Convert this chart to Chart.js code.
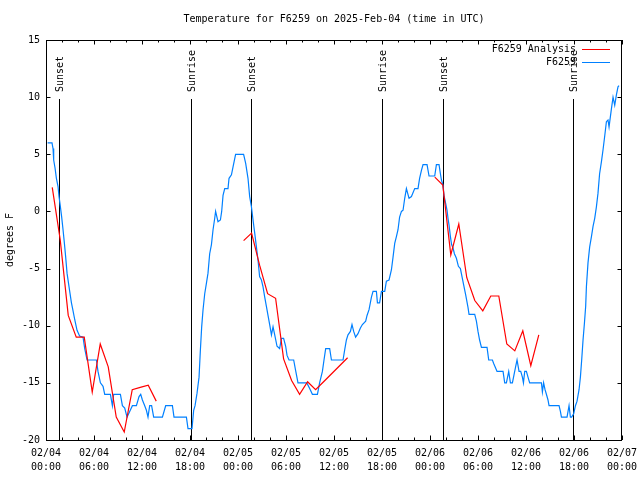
<!DOCTYPE html>
<html>
<head>
<meta charset="utf-8">
<script src="https://cdn.jsdelivr.net/npm/chart.js@4/dist/chart.umd.min.js"></script>
<style>
  html, body { margin: 0; padding: 0; background: #fff; }
</style>
</head>
<body>
<canvas id="myChart" width="640" height="480"></canvas>
<script>
const FONT = '"DejaVu Sans Mono", monospace';
const TITLE = 'Temperature for F6259 on 2025-Feb-04 (time in UTC)';

// x axis: hours since 02/04 00:00 UTC, labelled every 6 hours
const tickDates = ['02/04', '02/04', '02/04', '02/04', '02/05', '02/05', '02/05', '02/05', '02/06', '02/06', '02/06', '02/06', '02/07'];
const tickTimes = ['00:00', '06:00', '12:00', '18:00', '00:00', '06:00', '12:00', '18:00', '00:00', '06:00', '12:00', '18:00', '00:00'];

const sunsetHours = [1.63, 25.6, 49.62];
const sunriseHours = [18.12, 42.0, 65.88];

// F6259 observations
const obsHours = [
    0.2, 0.75, 0.88, 0.96, 1.13, 1.3, 1.5, 1.63, 1.8, 1.96,
    2.13, 2.3, 2.46, 2.63, 2.88, 3.18, 3.35, 3.6, 3.88, 4.2,
    4.63, 4.84, 5.13, 6.3, 6.5, 6.8, 7.13, 7.34, 8.05, 8.3,
    8.46, 9.3, 9.55, 9.84, 10.13, 10.46, 10.8, 11.3, 11.63, 11.84,
    12.05, 12.34, 12.55, 12.75, 12.96, 13.2, 13.46, 14.55, 14.96, 15.8,
    16.0, 17.55, 17.75, 18.25, 18.46, 18.63, 18.88, 19.13, 19.3, 19.46,
    19.63, 19.84, 20.05, 20.25, 20.46, 20.68, 20.88, 21.09, 21.2, 21.5,
    21.8, 21.96, 22.13, 22.34, 22.75, 22.88, 23.18, 23.38, 23.7, 24.7,
    24.96, 25.25, 25.46, 25.68, 25.88, 26.09, 26.3, 26.5, 26.7, 26.93,
    27.13, 27.34, 27.55, 27.75, 27.96, 28.18, 28.38, 28.59, 28.88, 29.2,
    29.43, 29.7, 29.96, 30.13, 30.38, 30.96, 31.2, 31.5, 32.6, 32.96,
    33.3, 33.93, 34.2, 34.55, 34.75, 34.96, 35.46, 35.68, 37.13, 37.34,
    37.55, 37.75, 38.05, 38.25, 38.46, 38.7, 39.0, 39.3, 39.55, 39.96,
    40.13, 40.38, 40.68, 40.88, 41.3, 41.43, 41.7, 41.93, 42.34, 42.55,
    42.88, 43.18, 43.38, 43.59, 43.8, 44.0, 44.2, 44.43, 44.63, 44.84,
    45.05, 45.38, 45.68, 46.09, 46.5, 46.7, 46.93, 47.13, 47.63, 47.88,
    48.59, 48.8, 49.13, 49.3, 49.43, 49.63, 49.75, 49.96, 50.13, 50.25,
    50.38, 50.55, 50.7, 50.88, 51.05, 51.3, 51.55, 51.8, 52.0, 52.2,
    52.46, 52.75, 52.88, 53.59, 53.8, 54.0, 54.2, 54.43, 55.13, 55.34,
    55.8, 55.96, 56.2, 56.38, 57.13, 57.34, 57.55, 57.84, 58.05, 58.3,
    58.5, 58.7, 58.88, 59.13, 59.34, 59.55, 59.68, 59.84, 60.05, 60.25,
    60.46, 61.93, 62.05, 62.2, 62.38, 62.55, 62.75, 62.88, 64.13, 64.3,
    64.43, 65.13, 65.38, 65.55, 65.7, 65.96, 66.18, 66.38, 66.63, 66.8,
    66.96, 67.13, 67.3, 67.46, 67.55, 67.75, 67.96, 68.18, 68.38, 68.59,
    68.8, 69.0, 69.2, 69.43, 69.63, 69.84, 70.05, 70.25, 70.38, 70.68,
    70.88, 71.09, 71.3, 71.5, 71.63
];
const obsTemps = [
    6, 6, 5.5, 4.5, 3.8, 2.9, 2.2, 1.3, 0.4, -0.5,
    -1.6, -2.8, -4.0, -5.4, -6.6, -8.0, -8.6, -9.5, -10.4, -10.9,
    -11, -12, -13, -13, -14, -15, -15.3, -16, -16, -17,
    -16, -16, -17, -17.2, -18, -17.5, -17, -17, -16.2, -16,
    -16.5, -17, -17.4, -18, -17, -17, -18, -18, -17, -17,
    -18, -18, -19, -19, -17.4, -17, -15.9, -14.5, -12.1, -10.1,
    -8.6, -7.2, -6.3, -5.4, -3.7, -2.9, -1.6, -0.6, 0, -0.9,
    -0.75, 0, 1.4, 2.0, 2.0, 2.9, 3.2, 3.9, 5.0, 5,
    4.2, 2.9, 1.3, 0.4, -0.75, -1.9, -3.1, -4.25, -5.7, -6,
    -6.6, -7.5, -8.3, -9.1, -9.9, -10.8, -10.1, -10.8, -11.8, -12,
    -11.1, -11.1, -11.8, -12.6, -13, -13, -13.9, -15, -15, -15.5,
    -16, -16, -15, -14, -13, -12, -12, -13, -13, -12.1,
    -11.25, -10.8, -10.5, -9.9, -10.5, -11, -10.7, -10.2, -9.9, -9.6,
    -9.1, -8.6, -7.5, -7.0, -7, -8.0, -8, -7, -7, -6.1,
    -6, -5.1, -4.0, -2.8, -2.2, -1.6, -0.5, 0, 0.1, 1.15,
    2.0, 1.15, 1.3, 2.0, 2.0, 2.9, 3.6, 4.1, 4.1, 3.1,
    3.1, 4.1, 4.1, 3.3, 2.75, 2.3, 1.4, 0.7, 0.1, -0.6,
    -1.2, -2.2, -2.9, -3.2, -3.7, -4.1, -4.8, -5.0, -5.7, -6.4,
    -7.3, -8.4, -9.0, -9.0, -9.6, -10.5, -11.25, -11.9, -11.9, -13,
    -13, -13.3, -13.7, -14, -14, -15, -15, -14, -15, -15,
    -14.3, -13.6, -13, -14, -14, -14.5, -15, -14, -14, -14.5,
    -15, -15, -15.8, -15, -15.6, -16, -16.5, -17, -17, -17.5,
    -18, -18, -17, -18, -18, -17.7, -17, -16.6, -15.6, -14.5,
    -13, -11.25, -9.8, -8.3, -6.6, -4.5, -3.1, -2.2, -1.3, -0.6,
    0.4, 1.6, 3.3, 4.35, 5.4, 6.6, 7.85, 8, 7.4, 9.0,
    10.0, 9.3, 10.2, 10.9, 11
];

// F6259 Analysis (hourly, null = gap between runs)
const anaHours = [
    0.78, 1.78, 2.78, 3.78, 4.78, 5.78, 6.78, 7.78, 8.78, 9.78, 10.78, 11.78, 12.78, 13.78,
    19,
    24.7, 25.7, 26.7, 27.7, 28.7, 29.7, 30.7, 31.7, 32.7, 33.7, 34.7, 35.7, 36.7, 37.7,
    43,
    48.6, 49.6, 50.6, 51.6, 52.6, 53.6, 54.6, 55.6, 56.6, 57.6, 58.6, 59.6, 60.6, 61.6
];
const anaTemps = [
    2.1, -2.5, -9.1, -11, -11, -15.8, -11.6, -13.6, -18, -19.3, -15.6, -15.4, -15.2, -16.6,
    null,
    -2.55, -1.9, -4.7, -7.2, -7.6, -12.9, -14.8, -16, -14.9, -15.6, -14.9, -14.2, -13.5, -12.8,
    null,
    3.0, 2.3, -3.8, -1.1, -5.8, -7.8, -8.7, -7.4, -7.4, -11.6, -12.2, -10.45, -13.5, -10.8
];

// frame, inward ticks, sun lines, title and legend in the gnuplot style
const decorations = {
    id: 'decorations',
    beforeDatasetsDraw(chart) {
        const ctx = chart.ctx;
        const area = chart.chartArea;
        const x = chart.scales.x;
        ctx.save();
        ctx.strokeStyle = '#000';
        ctx.fillStyle = '#000';
        ctx.lineWidth = 1;
        ctx.font = '10px ' + FONT;

        // title, centred over the plot area
        ctx.textAlign = 'center';
        ctx.textBaseline = 'middle';
        ctx.fillText(TITLE, (area.left + area.right) / 2, 19);

        const events = [];
        sunsetHours.forEach(h => events.push([h, 'Sunset']));
        sunriseHours.forEach(h => events.push([h, 'Sunrise']));
        for (const [h, name] of events) {
            const px = Math.round(x.getPixelForValue(h)) + 0.5;
            ctx.beginPath();
            ctx.moveTo(px, area.top + 59);
            ctx.lineTo(px, area.bottom);
            ctx.stroke();
            ctx.save();
            ctx.translate(px + 1, area.top + 52);
            ctx.rotate(-Math.PI / 2);
            ctx.textAlign = 'left';
            ctx.textBaseline = 'middle';
            ctx.fillText(name, 0, 0);
            ctx.restore();
        }
        ctx.restore();
    },
    afterDatasetsDraw(chart) {
        const ctx = chart.ctx;
        const area = chart.chartArea;
        const x = chart.scales.x;
        const y = chart.scales.y;
        ctx.save();
        ctx.strokeStyle = '#000';
        ctx.lineWidth = 1;
        ctx.beginPath();
        for (let h = 0; h <= 72; h += 2) {
            const px = Math.round(x.getPixelForValue(h)) + 0.5;
            const len = h % 6 === 0 ? 4.5 : 2.5;
            ctx.moveTo(px, area.bottom);
            ctx.lineTo(px, area.bottom - len);
            ctx.moveTo(px, area.top);
            ctx.lineTo(px, area.top + len);
        }
        for (let v = -20; v <= 15; v += 5) {
            const py = Math.round(y.getPixelForValue(v)) + 0.5;
            ctx.moveTo(area.left, py);
            ctx.lineTo(area.left + 4.5, py);
            ctx.moveTo(area.right, py);
            ctx.lineTo(area.right - 4.5, py);
        }
        ctx.stroke();
        ctx.strokeRect(Math.round(area.left) + 0.5, Math.round(area.top) + 0.5,
            Math.round(area.right - area.left) - 1, Math.round(area.bottom - area.top));

        // legend
        ctx.font = '10px ' + FONT;
        ctx.textAlign = 'right';
        ctx.textBaseline = 'middle';
        ctx.fillStyle = '#000';
        chart.data.datasets.forEach((ds, i) => {
            const ly = area.top + 9.5 + i * 13;
            ctx.fillText(ds.label, area.right - 46, ly);
            ctx.strokeStyle = ds.borderColor;
            ctx.beginPath();
            ctx.moveTo(area.right - 40, ly);
            ctx.lineTo(area.right - 12, ly);
            ctx.stroke();
        });
        ctx.restore();
    }
};

const ctx = document.getElementById('myChart').getContext('2d');
const chart = new Chart(ctx, {
    type: 'line',
    data: {
        datasets: [{
            label: 'F6259 Analysis',
            data: anaHours.map((h, i) => ({ x: h, y: anaTemps[i] })),
            borderColor: '#ff0000',
            borderWidth: 1.2,
            pointRadius: 0,
            tension: 0,
            spanGaps: false
        },
        {
            label: 'F6259',
            data: obsHours.map((h, i) => ({ x: h, y: obsTemps[i] })),
            borderColor: '#0080ff',
            borderWidth: 1.2,
            pointRadius: 0,
            tension: 0
        }]
    },
    options: {
        responsive: false,
        animation: false,
        layout: { padding: { left: 0, right: 18, top: 40, bottom: 0 } },
        plugins: {
            legend: { display: false },
            tooltip: { enabled: false },
            title: { display: false }
        },
        scales: {
            x: {
                type: 'linear',
                min: 0,
                max: 72,
                afterFit(scale) {
                    scale.height = 40;
                    scale.paddingLeft = 0;
                    scale.paddingRight = 0;
                },
                grid: { display: false, drawTicks: false },
                border: { display: false },
                ticks: {
                    stepSize: 2,
                    autoSkip: false,
                    maxRotation: 0,
                    padding: 6,
                    color: '#000',
                    font: { family: FONT, size: 10, lineHeight: 1.4 },
                    callback(v) {
                        if (v % 6 !== 0) return '';
                        return [tickDates[v / 6], tickTimes[v / 6]];
                    }
                }
            },
            y: {
                min: -20,
                max: 15,
                afterFit(scale) {
                    scale.width = 46;
                    scale.paddingTop = 0;
                    scale.paddingBottom = 0;
                },
                grid: { display: false, drawTicks: false },
                border: { display: false },
                ticks: {
                    stepSize: 5,
                    padding: 6,
                    color: '#000',
                    font: { family: FONT, size: 10 }
                },
                title: {
                    display: true,
                    text: 'degrees F',
                    color: '#000',
                    font: { family: FONT, size: 10 },
                    padding: { top: 4, bottom: 0 }
                }
            }
        }
    },
    plugins: [decorations]
});
</script>
</body>
</html>
